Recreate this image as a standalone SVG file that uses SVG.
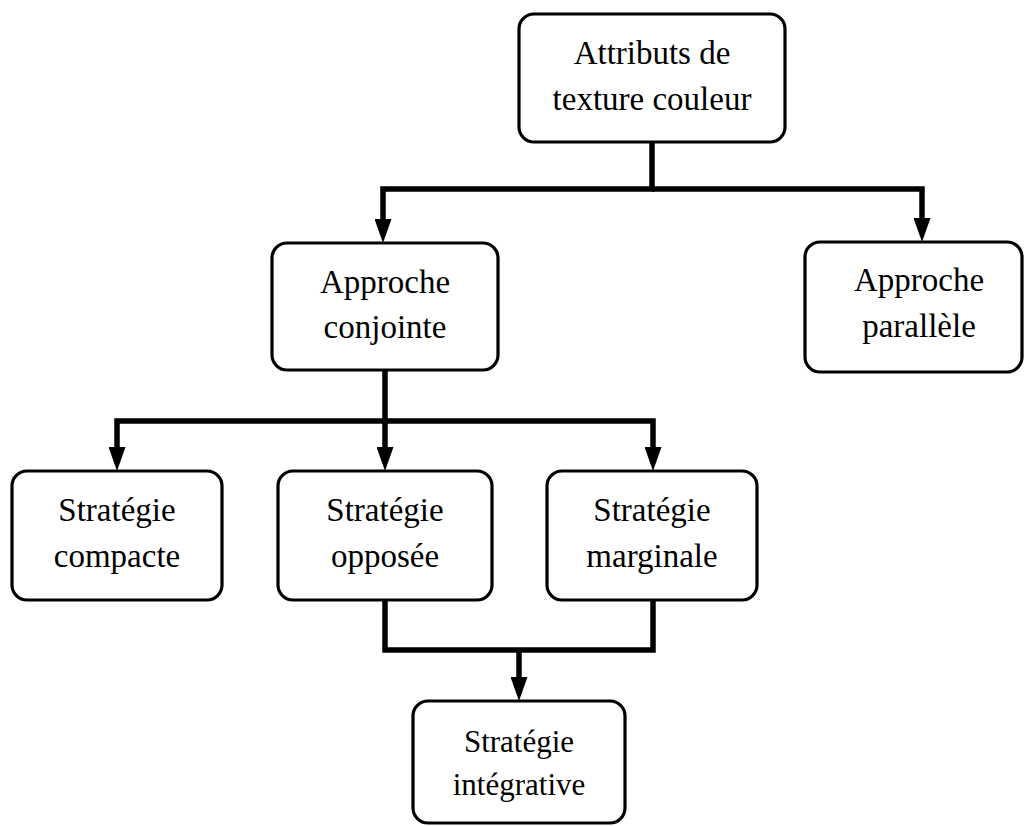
<svg xmlns="http://www.w3.org/2000/svg" width="1025" height="826" viewBox="0 0 1025 826">
  <style>
    .box { fill: #ffffff; stroke: #000000; stroke-width: 3.2; }
    .lbl { font-family: "Liberation Serif", "DejaVu Serif", serif; font-size: 33px; fill: #000000; text-anchor: middle; }
    .small { font-size: 31px; }
    .wire { fill: none; stroke: #000000; stroke-width: 5.5; stroke-linejoin: miter; stroke-linecap: butt; }
  </style>
  <defs>
    <marker id="arrow" markerUnits="userSpaceOnUse" viewBox="0 0 24 17" markerWidth="24" markerHeight="17" refX="1" refY="8.5" orient="auto">
      <path d="M0,0 L24,8.5 L0,17 Z" fill="#000000"/>
    </marker>
  </defs>
  <rect width="1025" height="826" fill="#ffffff"/>

  <g id="connectors">
    <path class="wire" d="M652,142 V189 H383 V220" marker-end="url(#arrow)"/>
    <path class="wire" d="M652,189 H922 V219" marker-end="url(#arrow)"/>
    <path class="wire" d="M385,370 V421 H117 V448" marker-end="url(#arrow)"/>
    <path class="wire" d="M385,421 V448" marker-end="url(#arrow)"/>
    <path class="wire" d="M385,421 H653 V448" marker-end="url(#arrow)"/>
    <path class="wire" d="M385,600 V650 H653 V600"/>
    <path class="wire" d="M519,650 V678" marker-end="url(#arrow)"/>
  </g>

  <g id="attributs">
    <rect class="box" x="519" y="14" width="266" height="128" rx="15"/>
    <text class="lbl" x="652" y="64">Attributs de</text>
    <text class="lbl" x="652" y="110">texture couleur</text>
  </g>

  <g id="conjointe">
    <rect class="box" x="272" y="243" width="226" height="127" rx="15"/>
    <text class="lbl" x="385" y="293">Approche</text>
    <text class="lbl" x="385" y="338">conjointe</text>
  </g>

  <g id="parallele">
    <rect class="box" x="805" y="242" width="217" height="130" rx="15"/>
    <text class="lbl" x="919" y="291">Approche</text>
    <text class="lbl" x="919" y="337">parallèle</text>
  </g>

  <g id="compacte">
    <rect class="box" x="12" y="471" width="210" height="129" rx="15"/>
    <text class="lbl" x="117" y="521">Stratégie</text>
    <text class="lbl" x="117" y="567">compacte</text>
  </g>

  <g id="opposee">
    <rect class="box" x="278" y="471" width="214" height="129" rx="15"/>
    <text class="lbl" x="385" y="521">Stratégie</text>
    <text class="lbl" x="385" y="567">opposée</text>
  </g>

  <g id="marginale">
    <rect class="box" x="547" y="471" width="210" height="129" rx="15"/>
    <text class="lbl" x="652" y="521">Stratégie</text>
    <text class="lbl" x="652" y="567">marginale</text>
  </g>

  <g id="integrative">
    <rect class="box" x="413" y="701" width="212" height="122" rx="15"/>
    <text class="lbl small" x="519" y="752">Stratégie</text>
    <text class="lbl small" x="519" y="795">intégrative</text>
  </g>
</svg>
